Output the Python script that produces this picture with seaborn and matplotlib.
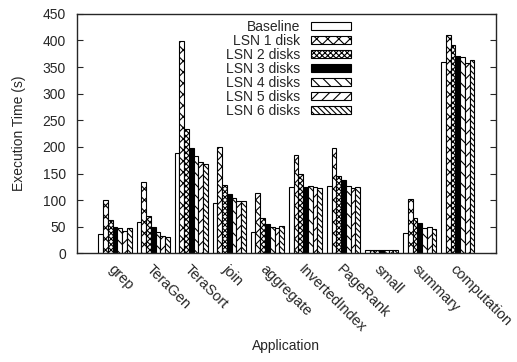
import numpy as np
import pandas as pd
import matplotlib
matplotlib.use('Agg')
import matplotlib.pyplot as plt
import seaborn as sns

apps = ['grep', 'TeraGen', 'TeraSort', 'join', 'aggregate', 'InvertedIndex',
        'PageRank', 'small', 'summary', 'computation']
configs = ['Baseline', 'LSN 1 disk', 'LSN 2 disks', 'LSN 3 disks',
           'LSN 4 disks', 'LSN 5 disks', 'LSN 6 disks']

baseline = [37, 59, 188, 94, 40, 125, 127, 7, 38, 360]
lsn1 = [101, 134, 399, 199, 113, 185, 197, 7, 102, 411]
lsn2 = [62, 70, 234, 129, 66, 149, 145, 7, 66, 391]
lsn3 = [50, 50, 198, 111, 55, 125, 137, 6, 57, 371]
lsn4 = [47, 40, 182, 104, 49, 126, 126, 7, 47, 368]
lsn5 = [43, 33, 171, 98, 47, 124, 122, 7, 50, 357]
lsn6 = [47, 30, 167, 98, 52, 122, 125, 7, 46, 363]

series = [baseline, lsn1, lsn2, lsn3, lsn4, lsn5, lsn6]
rows = []
for cfg, vals in zip(configs, series):
    for app, v in zip(apps, vals):
        rows.append({'Application': app, 'config': cfg, 'time': v})
df = pd.DataFrame(rows)

sns.set_style('ticks')
plt.rcParams['font.family'] = ['Liberation Sans', 'DejaVu Sans']
plt.rcParams['hatch.linewidth'] = 0.8

fig, ax = plt.subplots(figsize=(5.17, 3.62), dpi=100)
sns.barplot(data=df, x='Application', y='time', hue='config', order=apps,
            hue_order=configs, width=0.875, ax=ax, legend=False,
            edgecolor='black', linewidth=0.8)

hatches = ['', 'xxx', 'xxxxxx', '', '\\\\\\', '///', '\\\\\\\\\\\\']
faces = ['white', 'white', 'white', 'black', 'white', 'white', 'white']
for cont, h, fc in zip(ax.containers, hatches, faces):
    for p in cont.patches:
        p.set_facecolor(fc)
        p.set_hatch(h)
        p.set_edgecolor('black')

ax.legend(ax.containers, configs, loc='upper right', bbox_to_anchor=(0.67, 1.0),
          frameon=False, markerfirst=False, fontsize=10, handlelength=2.9,
          handleheight=0.55, labelspacing=0.0, borderaxespad=0.0,
          borderpad=0.45, handletextpad=0.8)

ax.set_xlim(-1, 10)
ax.set_ylim(0, 450)
ax.set_yticks(range(0, 451, 50))
ax.tick_params(axis='y', direction='in', right=True, length=4, labelsize=10, pad=8)
ax.tick_params(axis='x', length=0, labelsize=10.5, pad=6)
for lbl in ax.get_xticklabels():
    lbl.set_rotation(-45)
    lbl.set_ha('left')
    lbl.set_rotation_mode('anchor')
for s in ax.spines.values():
    s.set_visible(True)
    s.set_linewidth(1.0)
ax.set_xlabel('Application', fontsize=10, labelpad=3)
ax.set_ylabel('Execution Time (s)', fontsize=10, labelpad=12)

fig.subplots_adjust(left=0.149, right=0.959, top=0.962, bottom=0.30)
fig.savefig('out.png', dpi=100)
